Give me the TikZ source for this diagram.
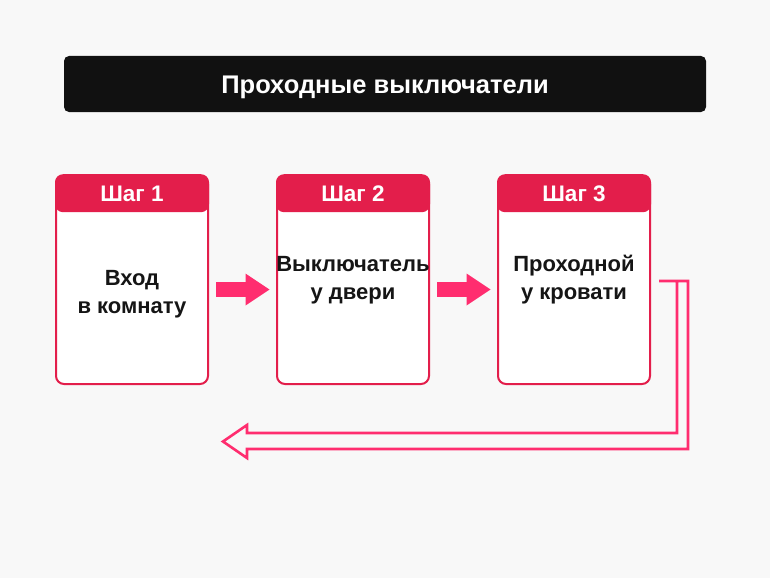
\documentclass[tikz,border=0pt]{standalone}
\usepackage{fontspec}
\setmainfont{Liberation Sans}
\usetikzlibrary{positioning,arrows.meta}
\definecolor{pageBg}{HTML}{F8F8F8}
\definecolor{titleBg}{HTML}{111111}
\definecolor{stepRed}{HTML}{E31E4B}
\definecolor{arrowPink}{HTML}{FF2D6F}
\definecolor{bodyText}{HTML}{151515}

\begin{document}
\begin{tikzpicture}[x=1pt,y=-1pt]
			\tikzstyle{titlebar} = [fill=titleBg, text=white, minimum width=642pt,
				minimum height=56pt, rounded corners=5pt, text height=18pt, text depth=0pt,
				font=\fontsize{25.5}{30}\selectfont\bfseries]
			\tikzstyle{card} = [draw=stepRed, line width=2pt, fill=white,
				minimum width=152pt, minimum height=208pt, rounded corners=8pt]
			\tikzstyle{cardhead} = [fill=stepRed, text=white, anchor=north, minimum width=154pt,
				minimum height=38pt, rounded corners=8pt, text height=16pt, text depth=0pt,
				font=\fontsize{22.5}{26}\selectfont\bfseries]
			\tikzstyle{cardtext} = [align=center, text=bodyText, font=\fontsize{22}{28}\selectfont\bfseries]
			\tikzstyle{line} = [draw=arrowPink, line width=15pt,
				-{Triangle[width=32pt,length=24pt,line width=0pt]}]
			\tikzstyle{lineBack} = [draw=arrowPink, line width=2.6pt, line join=miter]

			\useasboundingbox[fill=pageBg] (0,0) rectangle (770,578);

			\node(Title)[titlebar] at (385,84) {Проходные выключатели};

			\tikzset{node distance = 221pt}
			\node(StepOne)[card] at (132,280) {};
			\node(StepTwo)[card, right of = StepOne] {};
			\node(StepThree)[card, right of = StepTwo] {};

			\node(HeadOne)[cardhead] at ([yshift=1pt]StepOne.north) {Шаг 1};
			\node(HeadTwo)[cardhead] at ([yshift=1pt]StepTwo.north) {Шаг 2};
			\node(HeadThree)[cardhead] at ([yshift=1pt]StepThree.north) {Шаг 3};

			\node(TextOne)[cardtext] at ([yshift=-14pt]StepOne.center) {Вход\\в комнату};
			\node(TextTwo)[cardtext] at (StepTwo.center) {Выключатель\\у двери};
			\node(TextThree)[cardtext] at (StepThree.center) {Проходной\\у кровати};

			\draw[line] ([xshift=7pt,yshift=-9.5pt]StepOne.east) -- ([xshift=-6.5pt,yshift=-9.5pt]StepTwo.west);
			\draw[line] ([xshift=7pt,yshift=-9.5pt]StepTwo.east) -- ([xshift=-6.5pt,yshift=-9.5pt]StepThree.west);

			% hollow arrow back to the first step
			\coordinate(ReturnStart) at ([xshift=8pt,yshift=-1pt]StepThree.east);
			\coordinate(ReturnTip) at (223,441.5);
			\draw[lineBack] (ReturnStart) -- ++(29,0) -- ++(0,168) -- (247,449) -- ++(0,9)
				-- (ReturnTip) -- (247,425) -- ++(0,8) -- (677,433) -- (677,281);

		\end{tikzpicture}
\end{document}
